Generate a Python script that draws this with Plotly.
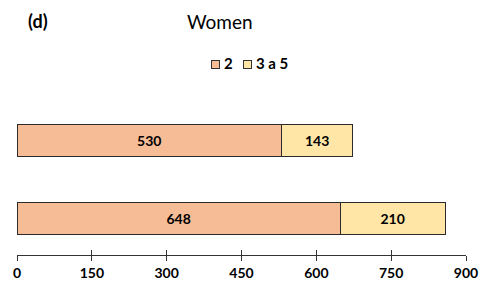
import plotly.graph_objects as go

categories = ["B", "A"]  # bottom, top
series_names = ["2", "3 a 5"]
values_2 = [648, 530]
values_3a5 = [210, 143]
tick_vals = [0, 150, 300, 450, 600, 750, 900]
colors = ["#F5BC96", "#FFE6A6"]

FONT = "Lato"
W, H = 484, 283
ML, MR, MT, MB = 17, 18, 101, 28
PW, PH = W - ML - MR, H - MT - MB


def px(x):
    return (x - ML) / PW


def py(y):
    return (H - MB - y) / PH


fig = go.Figure()
for name, vals, col in zip(series_names, [values_2, values_3a5], colors):
    fig.add_trace(go.Bar(
        y=categories, x=vals, name=name, orientation="h",
        marker=dict(color=col, line=dict(color="#2b2b2b", width=1)),
        text=[str(v) for v in vals], textposition="inside",
        insidetextanchor="middle",
        textfont=dict(family=FONT, size=14, color="black", weight="bold"),
        width=0.41, showlegend=False,
    ))

fig.add_trace(go.Scatter(x=[0, 900], y=[None, None], xaxis="x2", showlegend=False, hoverinfo="skip"))

anns = [
    dict(text="<b>(d)</b>", x=px(38), y=py(21), font=dict(family=FONT, size=18, color="black"),
         xanchor="center"),
    dict(text="Women", x=px(220), y=py(21), font=dict(family=FONT, size=19, color="black"),
         xanchor="center"),
]
# legend built from series names / colors
leg_x = [211, 243]
for name, col, lx in zip(series_names, colors, leg_x):
    anns.append(dict(text=" ", x=px(lx), y=py(64), width=7, height=7, bgcolor=col,
                     bordercolor="#333", borderwidth=1, borderpad=0, xanchor="left",
                     font=dict(size=6)))
    anns.append(dict(text="<b>" + name + "</b>", x=px(lx + 11), y=py(63), xanchor="left",
                     font=dict(family=FONT, size=15, color="black")))
for a in anns:
    a.update(xref="paper", yref="paper", showarrow=False, yanchor=a.get("yanchor", "middle"))

fig.update_layout(
    barmode="stack",
    width=W, height=H,
    margin=dict(l=ML, r=MR, t=MT, b=MB, autoexpand=False),
    plot_bgcolor="white", paper_bgcolor="white",
    font=dict(family=FONT, color="black"),
    showlegend=False,
    xaxis=dict(range=[0, 900], tickvals=tick_vals, ticks="outside", ticklen=5,
               tickcolor="#333", showline=True, linecolor="#333", linewidth=1,
               showgrid=False, zeroline=False, automargin=False,
               tickfont=dict(family=FONT, size=14, weight="bold", color="black")),
    xaxis2=dict(range=[0, 900], tickvals=tick_vals, ticks="inside", ticklen=5,
                tickcolor="#333", showticklabels=False, overlaying="x", side="bottom",
                showgrid=False, zeroline=False, showline=False, automargin=False),
    yaxis=dict(range=[-0.465, 1.5], showticklabels=False, showgrid=False,
               zeroline=False, ticks="", automargin=False),
    annotations=anns,
)

fig.write_html("out.html", config={"displayModeBar": False})
with open("out.html", encoding="utf-8") as f:
    html = f.read()
html = html.replace("<head>", "<head><style>html,body{margin:0;padding:0;overflow:hidden}</style>", 1)
with open("out.html", "w", encoding="utf-8") as f:
    f.write(html)
